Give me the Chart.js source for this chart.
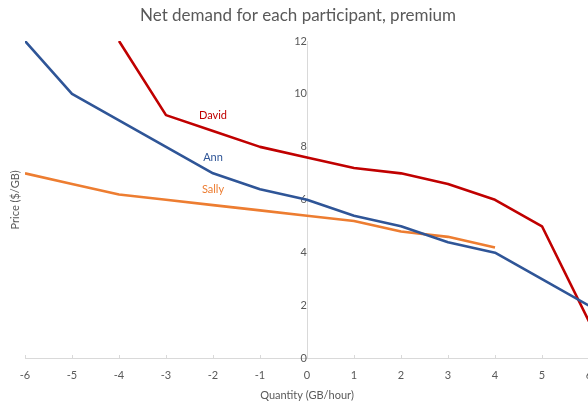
<!DOCTYPE html>
<html>
<head>
<meta charset="utf-8">
<script src="https://cdn.jsdelivr.net/npm/chart.js@4/dist/chart.umd.min.js"></script>
<style>
  html, body { margin: 0; padding: 0; background: #ffffff; overflow: hidden; }
  #wrap { position: relative; width: 600px; height: 402px; }
</style>
</head>
<body>
<div id="wrap"><canvas id="chart"></canvas></div>
<script>
// Quantity (GB/hour) at which each price is read
const quantity = [-6, -5, -4, -3, -2, -1, 0, 1, 2, 3, 4, 5, 6];

// Price ($/GB) per participant; null where the participant has no bid
const annPrice   = [12, 10, 9, 8, 7, 6.4, 6, 5.4, 5, 4.4, 4, 3, 2];
const davidPrice = [null, null, 12, 9.2, 8.6, 8, 7.6, 7.2, 7, 6.6, 6, 5, 1.4];
const sallyPrice = [7, 6.6, 6.2, 6, 5.8, 5.6, 5.4, 5.2, 4.8, 4.6, 4.2, null, null];

const xTicks = [-6, -5, -4, -3, -2, -1, 0, 1, 2, 3, 4, 5, 6];
const yTicks = [0, 2, 4, 6, 8, 10, 12];

const FONT = 'Lato, "Open Sans", sans-serif';
const GREY = '#595959';
const AXIS_GREY = '#d9d9d9';

function toPoints(values) {
  const pts = [];
  values.forEach((v, i) => { if (v !== null) pts.push({ x: quantity[i], y: v }); });
  return pts;
}

// Short tick marks rising from the horizontal axis line
const innerTicks = {
  id: 'innerTicks',
  beforeDatasetsDraw(chart) {
    const { ctx, scales } = chart;
    const base = Math.round(scales.y.getPixelForValue(0));
    ctx.save();
    ctx.strokeStyle = AXIS_GREY;
    ctx.lineWidth = 1;
    ctx.beginPath();
    scales.x.ticks.forEach(t => {
      const px = Math.round(scales.x.getPixelForValue(t.value)) + 0.5;
      ctx.moveTo(px, base - 4);
      ctx.lineTo(px, base);
    });
    ctx.stroke();
    ctx.restore();
  }
};

// Series name tags written next to each curve
const nameTags = {
  id: 'nameTags',
  afterDatasetsDraw(chart) {
    const { ctx, scales } = chart;
    const tags = chart.options.plugins.nameTags.tags;
    ctx.save();
    ctx.font = '11px ' + FONT;
    ctx.textAlign = 'center';
    ctx.textBaseline = 'middle';
    tags.forEach(t => {
      ctx.fillStyle = t.color;
      ctx.fillText(t.text, scales.x.getPixelForValue(t.x), scales.y.getPixelForValue(t.y));
    });
    ctx.restore();
  }
};

// Chart heading and the vertical axis title (kept at the left edge while the axis sits at x = 0)
const headings = {
  id: 'headings',
  afterDraw(chart) {
    const { ctx, chartArea } = chart;
    ctx.save();
    ctx.fillStyle = GREY;
    ctx.textAlign = 'center';
    ctx.textBaseline = 'middle';
    ctx.font = '17px ' + FONT;
    ctx.fillText('Net demand for each participant, premium', 298, 16);
    ctx.font = '11px ' + FONT;
    ctx.translate(15, (chartArea.top + chartArea.bottom) / 2);
    ctx.rotate(-Math.PI / 2);
    ctx.fillText('Price ($/GB)', 0, 0);
    ctx.restore();
  }
};

new Chart(document.getElementById('chart'), {
  type: 'line',
  data: {
    datasets: [
      { label: 'Ann', data: toPoints(annPrice), borderColor: '#2F5597' },
      { label: 'David', data: toPoints(davidPrice), borderColor: '#C00000' },
      { label: 'Sally', data: toPoints(sallyPrice), borderColor: '#ED7D31' }
    ]
  },
  options: {
    responsive: true,
    maintainAspectRatio: false,
    animation: false,
    layout: { padding: { left: 25, right: 11, top: 41, bottom: 0 } },
    elements: {
      line: { borderWidth: 2.6, tension: 0, fill: false, borderCapStyle: 'butt', borderJoinStyle: 'round' },
      point: { radius: 0, hoverRadius: 0 }
    },
    scales: {
      x: {
        type: 'linear',
        position: 'bottom',
        min: -6, max: 6,
        afterBuildTicks(axis) { axis.ticks = xTicks.map(v => ({ value: v })); },
        border: { display: true, color: AXIS_GREY, width: 1 },
        grid: { drawOnChartArea: false, drawTicks: true, tickLength: 4, color: 'rgba(0,0,0,0)' },
        ticks: { color: GREY, font: { family: FONT, size: 11 }, padding: 6, maxRotation: 0 },
        title: { display: true, text: 'Quantity (GB/hour)', color: GREY, font: { family: FONT, size: 11 }, padding: { top: 1, bottom: 0 } }
      },
      y: {
        type: 'linear',
        position: { x: 0 },
        min: 0, max: 12,
        afterBuildTicks(axis) { axis.ticks = yTicks.map(v => ({ value: v })); },
        border: { display: true, color: AXIS_GREY, width: 1 },
        grid: { drawOnChartArea: false, drawTicks: false },
        ticks: { color: GREY, font: { family: FONT, size: 11 }, padding: 11 }
      }
    },
    plugins: {
      legend: { display: false },
      tooltip: { enabled: false },
      title: { display: false },
      nameTags: {
        tags: [
          { text: 'David', x: -2, y: 9.2, color: '#C00000' },
          { text: 'Ann', x: -2, y: 7.6, color: '#2F5597' },
          { text: 'Sally', x: -2, y: 6.4, color: '#ED7D31' }
        ]
      }
    }
  },
  plugins: [innerTicks, nameTags, headings]
});
</script>
</body>
</html>
